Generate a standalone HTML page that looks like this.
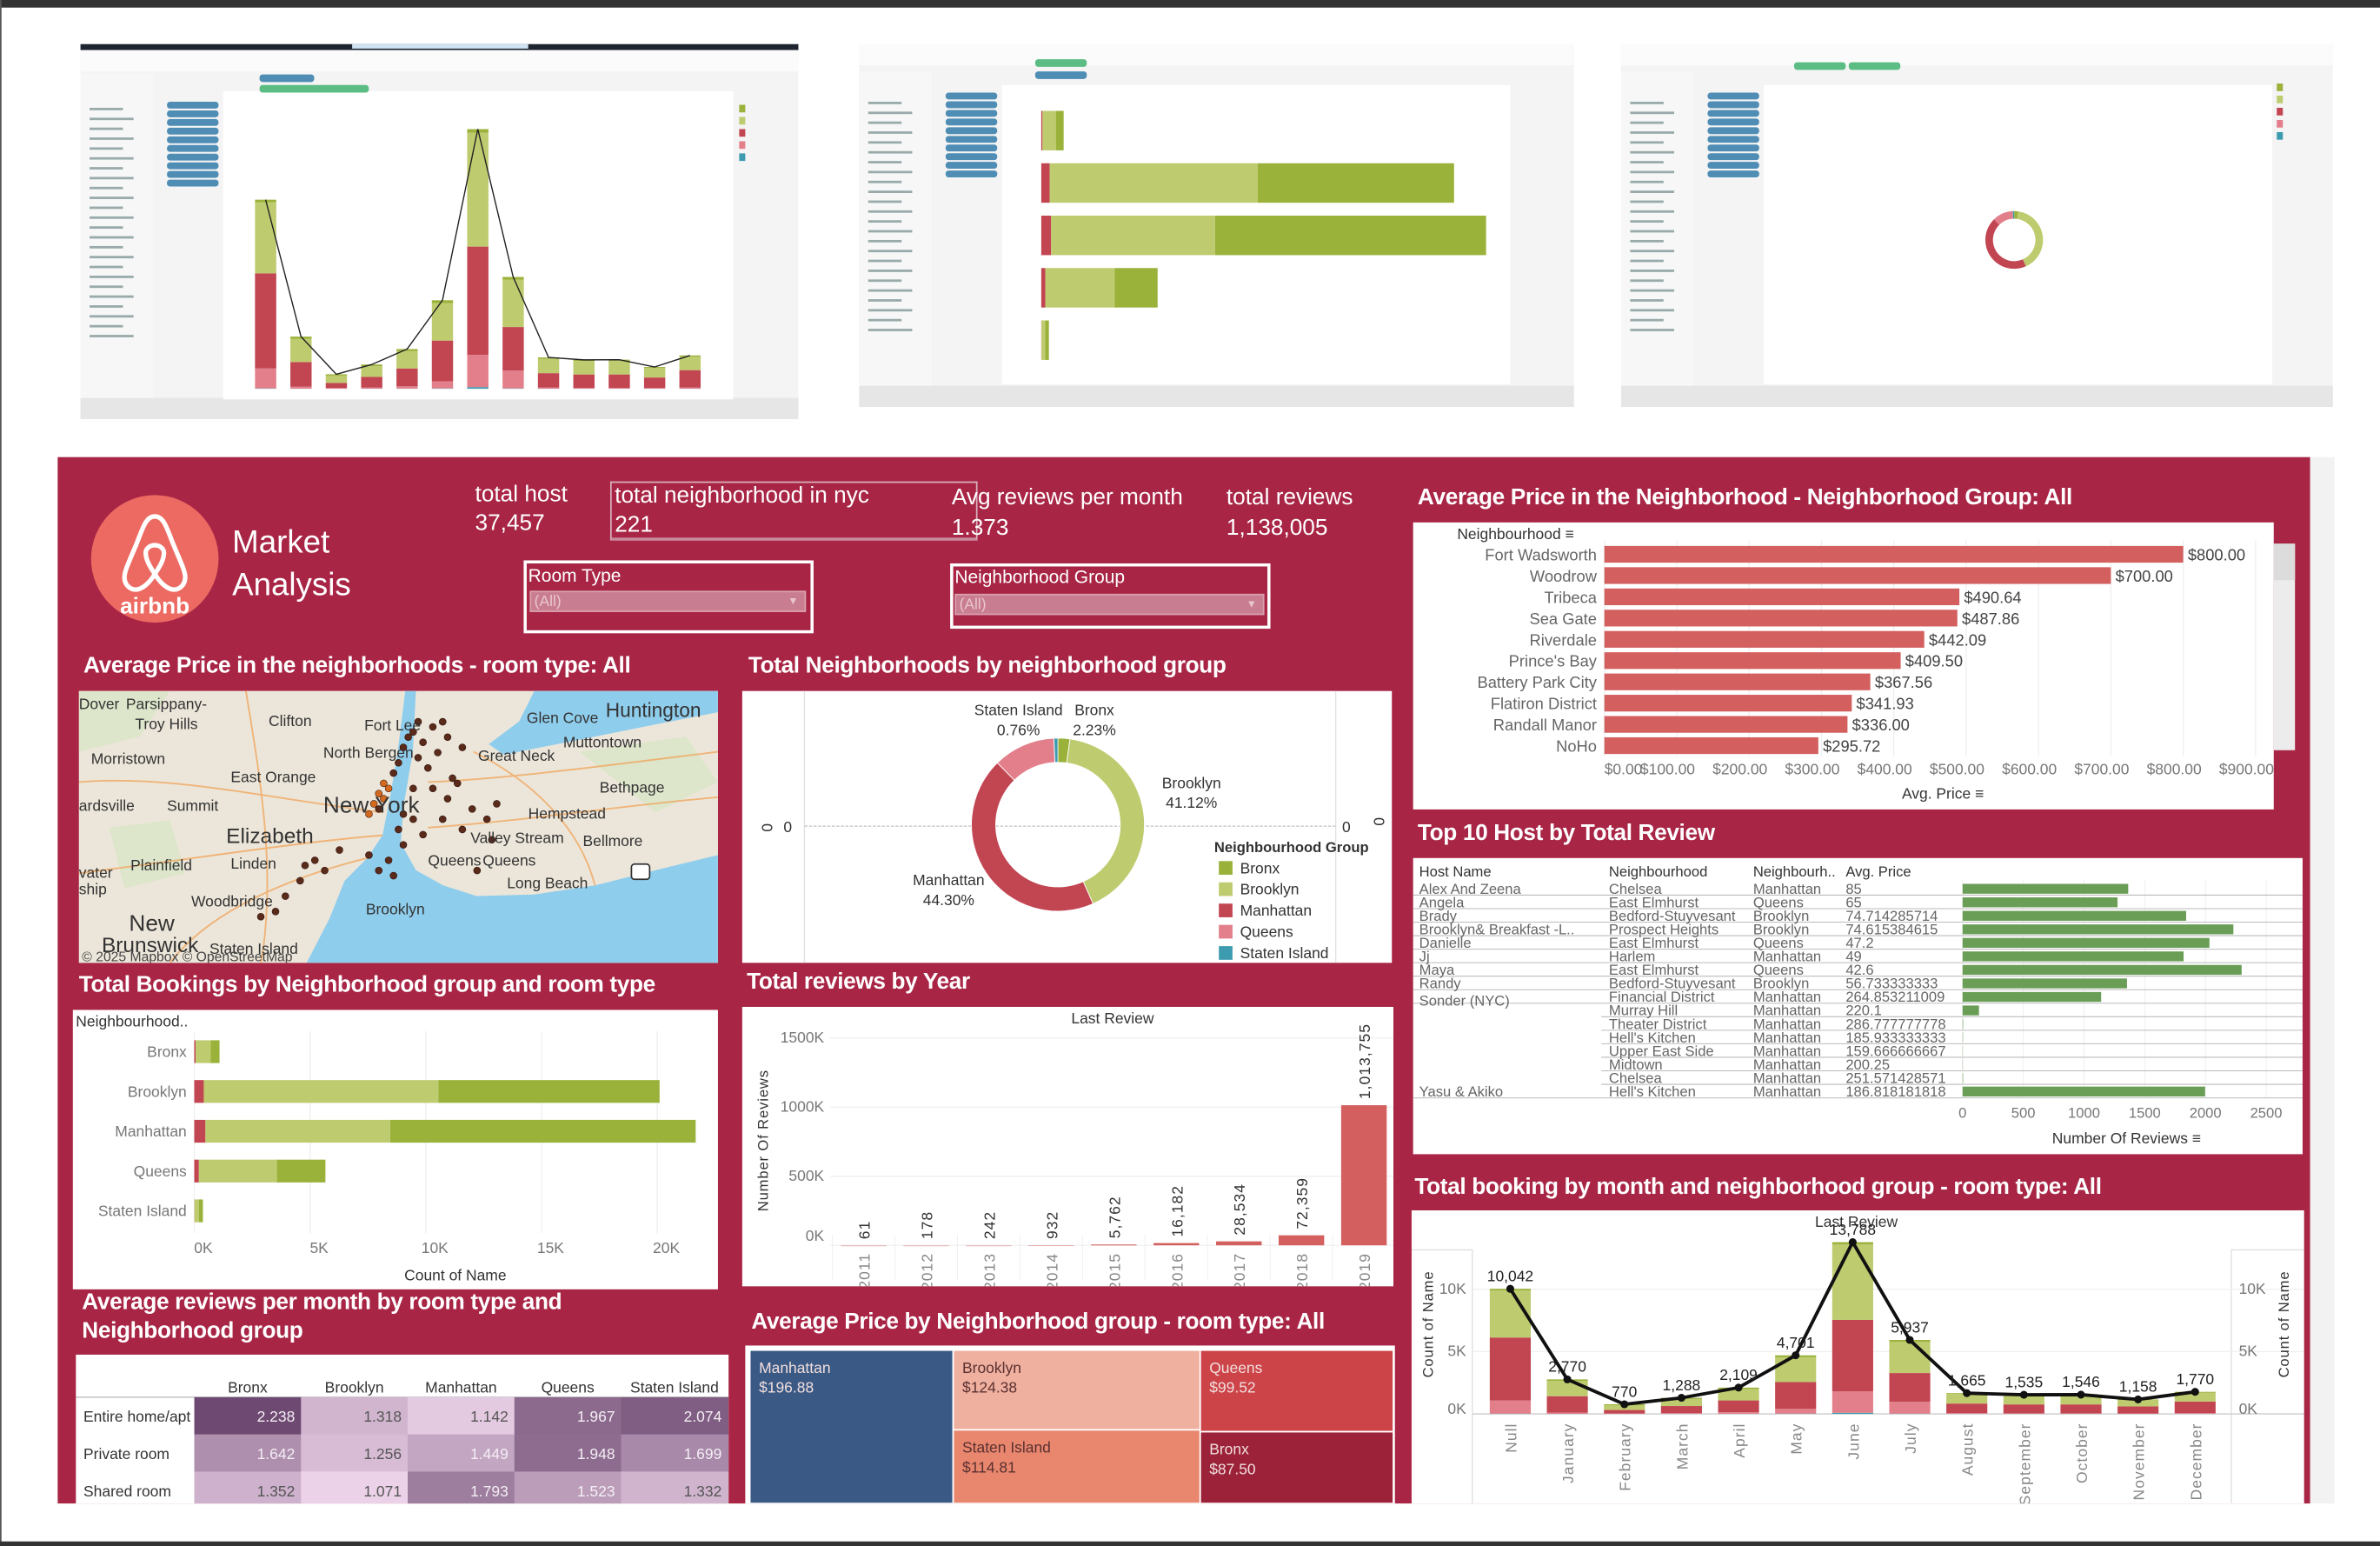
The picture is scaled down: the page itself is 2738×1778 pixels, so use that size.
<!DOCTYPE html>
<html><head><meta charset="utf-8">
<style>
html,body{margin:0;padding:0;width:2738px;height:1778px;overflow:hidden;background:#fff;}
#root{position:absolute;left:0;top:0;width:1568px;height:1018px;transform:scale(1.74617,1.74656);transform-origin:0 0;font-family:"Liberation Sans Narrow","Liberation Sans",sans-serif;}
.a{position:absolute;}
.t{position:absolute;color:#fff;font-weight:bold;font-size:15px;white-space:nowrap;letter-spacing:-0.2px;}
.k{position:absolute;color:#fff;font-size:15px;white-space:nowrap;}
.p{position:absolute;background:#fff;overflow:hidden;}
svg{position:absolute;left:0;top:0;overflow:visible;}
svg text{font-family:"Liberation Sans Narrow","Liberation Sans",sans-serif;}
</style></head>
<body>
<div id="root">
  <div class="a" style="left:0;top:0;width:1568px;height:5px;background:#333"></div>
  <div class="a" style="left:0;top:0;width:1px;height:1018px;background:#555"></div>
  <div class="a" style="left:0;top:1015px;width:1568px;height:3px;background:#333"></div>

  <!-- top screenshots -->
  <div class="p" id="shot1" style="left:53px;top:29px;width:473px;height:247px;background:#f4f4f4"><svg id="s1" width="473" height="247"></svg></div>
  <div class="p" id="shot2" style="left:566px;top:29px;width:471px;height:239px;background:#f4f4f4"><svg id="s2" width="471" height="239"></svg></div>
  <div class="p" id="shot3" style="left:1068px;top:29px;width:469px;height:239px;background:#f4f4f4"><svg id="s3" width="469" height="239"></svg></div>

  <!-- main red dashboard -->
  <div class="a" style="left:38px;top:301px;width:1484px;height:689px;background:#a82545"></div>
  <div class="a" style="left:1522px;top:301px;width:16px;height:689px;background:#f2f2f2"></div>

  <div class="a" style="left:60px;top:326px;width:84px;height:84px;border-radius:50%;background:#ec6a62">
    <svg width="84" height="84"><path d="M42 14 C36 14 34 22 30 32 C25 44 22 50 22 54 C22 60 27 63 31 62 C35 61 39 57 42 52 C45 57 49 61 53 62 C57 63 62 60 62 54 C62 50 59 44 54 32 C50 22 48 14 42 14 Z M42 52 C38 46 36 42 36 38 C36 35 39 33 42 33 C45 33 48 35 48 38 C48 42 46 46 42 52 Z" fill="none" stroke="#fff" stroke-width="3"/><text x="42" y="78" text-anchor="middle" fill="#fff" font-size="15" font-weight="bold">airbnb</text></svg>
  </div>
  <div class="k" style="left:153px;top:346px;font-size:21px">Market</div>
  <div class="k" style="left:153px;top:374px;font-size:21px">Analysis</div>

  <div class="k" style="left:313px;top:317px">total host</div>
  <div class="k" style="left:313px;top:336px">37,457</div>
  <div class="a" style="left:402px;top:317px;width:240px;height:36px;border:1px solid #d8b0bc;border-bottom:2px solid #c98c9c"></div>
  <div class="k" style="left:405px;top:318px">total neighborhood in nyc</div>
  <div class="k" style="left:405px;top:337px">221</div>
  <div class="k" style="left:627px;top:319px">Avg reviews per month</div>
  <div class="k" style="left:627px;top:339px">1.373</div>
  <div class="k" style="left:808px;top:319px">total reviews</div>
  <div class="k" style="left:808px;top:339px">1,138,005</div>

  <div class="a" style="left:345px;top:369px;width:187px;height:44px;border:2px solid #fff"></div>
  <div class="k" style="left:348px;top:372px;font-size:12px">Room Type</div>
  <div class="a" style="left:349px;top:389px;width:182px;height:14px;background:#c97d90;border:1px solid #d9a0ae;color:#e9c6cf;font-size:10px;line-height:14px;box-sizing:border-box;padding-left:2px">(All)<span style="position:absolute;right:4px;font-size:7px">▼</span></div>
  <div class="a" style="left:626px;top:371px;width:207px;height:39px;border:2px solid #fff"></div>
  <div class="k" style="left:629px;top:373px;font-size:12px">Neighborhood Group</div>
  <div class="a" style="left:629px;top:391px;width:204px;height:14px;background:#c97d90;border:1px solid #d9a0ae;color:#e9c6cf;font-size:10px;line-height:14px;box-sizing:border-box;padding-left:2px">(All)<span style="position:absolute;right:4px;font-size:7px">▼</span></div>

  <!-- titles -->
  <div class="t" style="left:55px;top:430px">Average Price in the neighborhoods - room type: All</div>
  <div class="t" style="left:493px;top:430px">Total Neighborhoods by neighborhood group</div>
  <div class="t" style="left:934px;top:319px">Average Price in the Neighborhood - Neighborhood Group: All</div>
  <div class="t" style="left:934px;top:540px">Top 10 Host by Total Review</div>
  <div class="t" style="left:52px;top:640px">Total Bookings by Neighborhood group and room type</div>
  <div class="t" style="left:492px;top:638px">Total reviews by Year</div>
  <div class="t" style="left:54px;top:848px;line-height:19px">Average reviews per month by room type and<br>Neighborhood group</div>
  <div class="t" style="left:495px;top:862px">Average Price by Neighborhood group - room type: All</div>
  <div class="t" style="left:932px;top:773px">Total booking by month and neighborhood group - room type: All</div>

  <!-- panels -->
  <div class="p" style="left:52px;top:455px;width:421px;height:179px;background:#ede7dc"><svg id="map" width="421" height="179"></svg></div>
  <div class="p" style="left:489px;top:455px;width:428px;height:179px"><svg id="donut" width="428" height="179"></svg></div>
  <div class="p" style="left:931px;top:344px;width:567px;height:189px"><svg id="price" width="567" height="189"></svg></div>
  <div class="a" style="left:1498px;top:358px;width:14px;height:136px;background:#ececec"><div class="a" style="left:0;top:0;width:14px;height:24px;background:#dcdcdc"></div></div>
  <div class="p" style="left:931px;top:565px;width:586px;height:195px"><svg id="hosts" width="586" height="195"></svg></div>
  <div class="p" style="left:48px;top:665px;width:425px;height:184px"><svg id="book" width="425" height="184"></svg></div>
  <div class="p" style="left:489px;top:663px;width:429px;height:184px"><svg id="year" width="429" height="184"></svg></div>
  <div class="p" style="left:50px;top:892px;width:430px;height:98px"><svg id="heat" width="430" height="98"></svg></div>
  <div class="p" style="left:491px;top:886px;width:428px;height:104px"><svg id="tree" width="428" height="104"></svg></div>
  <div class="p" style="left:930px;top:797px;width:588px;height:193px"><svg id="month" width="588" height="193"></svg></div>
</div>

<script>
// ---------- data ----------
const groups=['Bronx','Brooklyn','Manhattan','Queens','Staten Island'];
const groupColors=['#9ab23a','#bfcb6f','#c24552','#e27f8a','#3d9bb0'];
const donutPct=[2.23,41.12,44.30,11.59,0.76];

const nbNames=['Fort Wadsworth','Woodrow','Tribeca','Sea Gate','Riverdale',"Prince's Bay",'Battery Park City','Flatiron District','Randall Manor','NoHo'];
const nbPrices=[800,700,490.64,487.86,442.09,409.50,367.56,341.93,336.00,295.72];
const priceTicks=[0,100,200,300,400,500,600,700,800,900];

const hostNames=['Alex And Zeena','Angela','Brady','Brooklyn&  Breakfast  -L..','Danielle','Jj','Maya','Randy','Sonder (NYC)','','','','','','','Yasu & Akiko'];
const hostHoods=['Chelsea','East Elmhurst','Bedford-Stuyvesant','Prospect Heights','East Elmhurst','Harlem','East Elmhurst','Bedford-Stuyvesant','Financial District','Murray Hill','Theater District',"Hell's Kitchen",'Upper East Side','Midtown','Chelsea',"Hell's Kitchen"];
const hostGroups=['Manhattan','Queens','Brooklyn','Brooklyn','Queens','Manhattan','Queens','Brooklyn','Manhattan','Manhattan','Manhattan','Manhattan','Manhattan','Manhattan','Manhattan','Manhattan'];
const hostPrices=['85','65','74.714285714','74.615384615','47.2','49','42.6','56.733333333','264.853211009','220.1','286.777777778','185.933333333','159.666666667','200.25','251.571428571','186.818181818'];
const hostReviews=[1364,1276,1841,2230,2033,1820,2298,1354,1141,135,4,3,2,2,4,1997];
const hostTicks=[0,500,1000,1500,2000,2500];

const roomTypes=['Shared room','Private room','Entire home/apt'];
const roomColors=['#c24552','#bfcb6f','#9ab23a'];
const bookShared=[60,411,480,198,9];
const bookPrivate=[652,10132,7982,3372,188];
const bookEntire=[379,9559,13199,2096,176];
const bookTicks=[0,5000,10000,15000,20000];

const years=['2011','2012','2013','2014','2015','2016','2017','2018','2019'];
const yearReviews=[61,178,242,932,5762,16182,28534,72359,1013755];
const yearLabels=['61','178','242','932','5,762','16,182','28,534','72,359','1,013,755'];
const yearTicks=[0,500000,1000000,1500000];

const heatRows=['Entire home/apt','Private room','Shared room'];
const heatBronx=[2.238,1.642,1.352];
const heatBrooklyn=[1.318,1.256,1.071];
const heatManhattan=[1.142,1.449,1.793];
const heatQueens=[1.967,1.948,1.523];
const heatStaten=[2.074,1.699,1.332];

const treeNames=['Manhattan','Brooklyn','Staten Island','Queens','Bronx'];
const treePrices=[196.88,124.38,114.81,99.52,87.50];
const treeColors=['#3a5a85','#f0b09f','#e8866e','#cc4348','#9b2238'];

const months=['Null','January','February','March','April','May','June','July','August','September','October','November','December'];
const mStaten=[20,5,2,5,10,20,90,20,5,5,5,5,5];
const mQueens=[1060,105,40,60,120,380,1710,950,60,40,40,35,60];
const mManhattan=[5050,1310,270,565,950,2160,5750,2310,765,715,715,560,925];
const mBrooklyn=[3770,1230,390,570,920,1990,6050,2520,770,720,730,500,710];
const mBronx=[142,120,68,88,109,151,188,137,65,55,56,58,70];
const monthTicks=[0,5000,10000];

const mapLon=[-73.94,-73.95,-73.96,-73.98,-73.99,-74.00,-73.99,-74.01,-73.93,-73.92,-73.90,-73.87,-73.85,-73.88,-73.82,-73.91,-73.86,-73.95,-73.94,-73.97,-73.99,-73.92,-73.90,-73.96,-74.01,-73.94,-73.85,-73.80,-73.88,-73.77,-73.82,-73.75,-73.92,-73.79,-73.76,-73.86,-73.83,-74.15,-74.12,-74.18,-74.10,-74.20,-74.23,-73.97,-73.98,-73.91,-73.89,-73.84,-74.07,-74.14];
const mapLat=[40.84,40.81,40.79,40.77,40.75,40.73,40.72,40.71,40.86,40.87,40.85,40.83,40.86,40.88,40.84,40.89,40.89,40.68,40.65,40.62,40.60,40.70,40.67,40.59,40.63,40.71,40.74,40.72,40.76,40.70,40.68,40.73,40.76,40.60,40.66,40.70,40.77,40.58,40.62,40.55,40.60,40.52,40.51,40.76,40.74,40.82,40.80,40.78,40.64,40.61];
const mapPrice=[150,120,180,230,260,210,190,300,90,80,70,75,65,85,70,80,60,110,95,100,120,90,85,140,100,150,70,80,75,65,70,90,95,120,80,70,85,80,90,75,95,70,60,240,280,100,90,85,95,80];

// ---------- helpers ----------
const NS='http://www.w3.org/2000/svg';
function S(parent,tag,attrs,text){const e=document.createElementNS(NS,tag);for(const k in attrs)e.setAttribute(k,attrs[k]);if(text!==undefined)e.textContent=text;parent.appendChild(e);return e;}
function fmtK(v){return (v/1000)+'K';}

// ---------- avg price bar chart ----------
(function(){
  const svg=document.getElementById('price');
  const x0=126, sx=v=>x0+v*0.4767, rowY=i=>21+i*14;
  priceTicks.forEach(t=>{
    const g=S(svg,'line',{x1:sx(t),x2:sx(t),y1:12,y2:154,stroke:'#eeeeee','stroke-width':0.7});
    
    
    const tx=S(svg,'text',{x:t===0?x0:sx(t)-6,y:166,'text-anchor':t===0?'start':'middle','font-size':10,fill:'#777'},'$'+t.toFixed(2));
    
    
  });
  const h=S(svg,'text',{x:29,y:11,'font-size':10,fill:'#333'},'Neighbourhood ≡');
  
  
  nbNames.forEach((n,i)=>{
    const y=rowY(i);
    const l=S(svg,'text',{x:121,y:y+4,'text-anchor':'end','font-size':10.5,fill:'#666'},n);
    
    
    const b=S(svg,'rect',{x:x0,y:y-5.5,width:sx(nbPrices[i])-x0,height:11,fill:'#d35f5f'});
    
    
    const v=S(svg,'text',{x:sx(nbPrices[i])+3,y:y+4,'font-size':10.5,fill:'#444'},'$'+nbPrices[i].toFixed(2));
    
    
  });
  const at=S(svg,'text',{x:349,y:182,'text-anchor':'middle','font-size':10,fill:'#333'},'Avg. Price ≡');
  
  
})();

// ---------- top hosts table ----------
(function(){
  const svg=document.getElementById('hosts');
  const cols=[4,129,224,285], heads=['Host Name','Neighbourhood','Neighbourh..','Avg. Price'];
  heads.forEach((h,i)=>{const t=S(svg,'text',{x:cols[i],y:12,'font-size':9.5,fill:'#333'},h);
    
    });
  const bx0=362, sx=v=>bx0+v*0.08, rowY=i=>20+i*8.9;
  hostTicks.forEach(t=>{const g=S(svg,'line',{x1:sx(t),x2:sx(t),y1:14,y2:158,stroke:'#f0f0f0','stroke-width':0.6});
    
    
    const l=S(svg,'text',{x:sx(t),y:171,'text-anchor':'middle','font-size':9.5,fill:'#777'},String(t));
    
    });
  hostHoods.forEach((hd,i)=>{
    const y=rowY(i);
    const sep=S(svg,'line',{x1:hostNames[i]?0:124,x2:586,y1:y+4.4,y2:y+4.4,stroke:'#bbbbbb','stroke-width':0.6});
    
    
    const vals=[hostNames[i],hd,hostGroups[i],hostPrices[i]];
    vals.forEach((v,c)=>{ if(!v)return; const t=S(svg,'text',{x:cols[c],y:y+(c===0&&i===8?6:3.5),'font-size':9.5,fill:'#666'},v);
      
      });
    const b=S(svg,'rect',{x:bx0,y:y-3,width:sx(hostReviews[i])-bx0,height:6.5,fill:'#6a9e56'});
    
    
  });
  const at=S(svg,'text',{x:470,y:188,'text-anchor':'middle','font-size':10,fill:'#333'},'Number Of Reviews ≡');
  
  
})();

// ---------- donut ----------
(function(){
  const svg=document.getElementById('donut');
  const cx=208, cy=88, ro=57, ri=41;
  [[41],[391]].forEach(p=>{const l=S(svg,'line',{x1:p[0],x2:p[0],y1:0,y2:179,stroke:'#e2e2e2','stroke-width':0.8});
    
    });
  const dl=S(svg,'line',{x1:41,x2:391,y1:89,y2:89,stroke:'#cccccc','stroke-width':0.8,'stroke-dasharray':'2,1'});
  
  
  [['0',30,93],['0',398,93]].forEach(z=>{const t=S(svg,'text',{x:z[1],y:z[2],'font-size':10,fill:'#333','text-anchor':'middle'},z[0]);
    
    });
  [[13,90],[416,86]].forEach(z=>{const t=S(svg,'text',{x:z[0],y:z[1],'font-size':10,fill:'#333','text-anchor':'middle',transform:`rotate(90 ${z[0]} ${z[1]})`},'0');
    
    });
  let a=0;
  donutPct.forEach((p,i)=>{
    const a0=a/100*2*Math.PI, a1=(a+p)/100*2*Math.PI; a+=p;
    const pt=(r,ang)=>[cx+r*Math.sin(ang),cy-r*Math.cos(ang)];
    const [x1,y1]=pt(ro,a0),[x2,y2]=pt(ro,a1),[x3,y3]=pt(ri,a1),[x4,y4]=pt(ri,a0);
    const lg=(a1-a0)>Math.PI?1:0;
    const s=S(svg,'path',{d:`M${x1},${y1}A${ro},${ro} 0 ${lg} 1 ${x2},${y2}L${x3},${y3}A${ri},${ri} 0 ${lg} 0 ${x4},${y4}Z`,fill:groupColors[i],stroke:'#fff','stroke-width':0.5});
    
    
  });
  const labs=[[0,232,16],[1,296,64],[2,136,128],[4,182,16]];
  labs.forEach(L=>{
    const t=S(svg,'text',{x:L[1],y:L[2],'font-size':10,fill:'#333','text-anchor':'middle'},groups[L[0]]);
    
    
    const v=S(svg,'text',{x:L[1],y:L[2]+13,'font-size':10,fill:'#333','text-anchor':'middle'},donutPct[L[0]].toFixed(2)+'%');
    
    
  });
  const lt=S(svg,'text',{x:311,y:106,'font-size':9.5,'font-weight':'bold',fill:'#333'},'Neighbourhood Group');
  
  
  groups.forEach((g,i)=>{
    const r=S(svg,'rect',{x:314,y:112+i*14,width:9,height:9,fill:groupColors[i]});
    
    
    const t=S(svg,'text',{x:328,y:120+i*14,'font-size':10,fill:'#333'},g);
    
    
  });
})();

// ---------- map ----------
(function(){
  const svg=document.getElementById('map');
  const land=S(svg,'rect',{x:0,y:0,width:421,height:179,fill:'#ece6da'});
  
  
  const parks=S(svg,'path',{d:'M0,0 L60,0 L40,30 L0,40 Z M20,90 L60,85 L70,120 L30,130 Z M330,40 L400,30 L421,60 L380,80 Z',fill:'#d7e6c4',opacity:0.7});
  
  
  const water=S(svg,'path',{d:'M150,179 L165,150 L175,125 L190,110 L200,95 L205,70 L210,40 L215,0 L222,0 L220,40 L214,75 L212,100 L222,118 L240,128 L262,135 L300,134 L340,128 L380,118 L421,108 L421,179 Z M300,0 L421,0 L421,14 L380,22 L340,30 L300,38 L280,42 L270,35 L290,20 Z',fill:'#8fcdec'});
  
  
  const roads=S(svg,'path',{d:'M0,60 C60,55 120,70 200,80 M0,120 C80,110 140,100 200,95 M230,60 C280,58 340,50 421,40 M230,90 C300,85 360,75 421,70 M110,0 C120,60 130,120 120,179 M60,179 C90,140 150,120 190,110 M260,40 C300,60 330,90 340,128',stroke:'#f0a860',fill:'none','stroke-width':1.1,opacity:0.8});
  
  
  const px=lon=>(lon+74.6)/1.3*421, py=lat=>(40.95-lat)/0.53*179;
  mapLon.forEach((lon,i)=>{
    const c=S(svg,'circle',{cx:px(lon),cy:py(mapLat[i]),r:2.3,fill:mapPrice[i]>200?'#d2691e':'#5a2a1a',stroke:'#2a0f08','stroke-width':0.3});
    
    
  });
  const labels=[['Dover',0,12,10],['Parsippany-',31,12,10],['Troy Hills',37,25,10],['Clifton',125,23,10],['Fort Lee',188,26,10],['Glen Cove',295,21,10],['Huntington',347,17,13],['Morristown',8,48,10],['North Bergen',161,44,10],['Great Neck',263,46,10],['Muttontown',319,37,10],['East Orange',100,60,10],['Bethpage',343,67,10],['New York',161,80,15],['ardsville',0,79,10],['Summit',58,79,10],['Hempstead',296,84,10],['Elizabeth',97,100,14],['Valley Stream',258,100,10],['Bellmore',332,102,10],['Plainfield',34,118,10],['Linden',100,117,10],['Queens',230,115,10],['Queens',266,115,10],['vater',0,123,10],['ship',0,134,10],['Long Beach',282,130,10],['Woodbridge',74,142,10],['Brooklyn',189,147,10],['New',33,158,15],['Brunswick',15,172,14],['Staten Island',86,173,10]];
  labels.forEach(L=>{const t=S(svg,'text',{x:L[1],y:L[2],'font-size':L[3],fill:'#333'},L[0]);
    
    });
  const cb=S(svg,'rect',{x:364,y:114,width:12,height:10,rx:2,fill:'#fff',stroke:'#333','stroke-width':1});
  
  
  const cr=S(svg,'text',{x:2,y:178,'font-size':9,fill:'#444'},'© 2025 Mapbox © OpenStreetMap');
  
  
})();

// ---------- bookings bar chart ----------
(function(){
  const svg=document.getElementById('book');
  const x0=80, sx=v=>x0+v*0.01525, rowY=i=>27+i*26.2;
  bookTicks.forEach(t=>{const g=S(svg,'line',{x1:sx(t),x2:sx(t),y1:14,y2:147,stroke:'#eeeeee','stroke-width':0.7});
    
    
    const l=S(svg,'text',{x:sx(t)+6,y:160,'text-anchor':'middle','font-size':10,fill:'#777'},fmtK(t));
    
    });
  const h=S(svg,'text',{x:2,y:11,'font-size':10,fill:'#333'},'Neighbourhood..');
  
  
  groups.forEach((g,i)=>{
    const y=rowY(i);
    const l=S(svg,'text',{x:75,y:y+4,'text-anchor':'end','font-size':10,fill:'#777'},g);
    
    
    const segs=[bookShared[i],bookPrivate[i],bookEntire[i]];
    let acc=0;
    segs.forEach((v,k)=>{
      const r=S(svg,'rect',{x:sx(acc),y:y-7,width:sx(acc+v)-sx(acc),height:15,fill:roomColors[k]});
      
      
      acc+=v;
    });
  });
  const at=S(svg,'text',{x:252,y:178,'text-anchor':'middle','font-size':10,fill:'#333'},'Count of Name');
  
  
})();

// ---------- reviews by year ----------
(function(){
  const svg=document.getElementById('year');
  const base=157, sy=v=>base-v*0.000091, cx=i=>80+i*41.2;
  const ht=S(svg,'text',{x:244,y:11,'text-anchor':'middle','font-size':10,fill:'#333'},'Last Review');
  
  
  yearTicks.forEach(t=>{const g=S(svg,'line',{x1:58,x2:429,y1:sy(t),y2:sy(t),stroke:'#eeeeee','stroke-width':0.7});
    
    
    const l=S(svg,'text',{x:54,y:sy(t)+(t===0?-3:3),'text-anchor':'end','font-size':10,fill:'#777'},fmtK(t/1000*1000/1000)+'');
    l.textContent=(t/1000)+'K';
    
    });
  years.forEach((yr,i)=>{
    const c=cx(i);
    const vl=S(svg,'line',{x1:c-20.6,x2:c-20.6,y1:150,y2:180,stroke:'#f0f0f0','stroke-width':0.6});
    
    
    const b=S(svg,'rect',{x:c-15,y:sy(yearReviews[i]),width:30,height:Math.max(base-sy(yearReviews[i]),0.6),fill:yearReviews[i]>5000?'#d35f5f':'#e6b3b3'});
    
    
    const vt=S(svg,'text',{x:c+4,y:sy(yearReviews[i])-4,'font-size':10,fill:'#333',transform:`rotate(-90 ${c+4} ${sy(yearReviews[i])-4})`,'letter-spacing':'0.6'},yearLabels[i]);
    
    
    const yl=S(svg,'text',{x:c+4,y:162,'font-size':10,fill:'#888','text-anchor':'end',transform:`rotate(-90 ${c+4} 162)`,'letter-spacing':'0.6'},yr);
    
    
  });
  const at=S(svg,'text',{x:17,y:88,'text-anchor':'middle','font-size':9.5,fill:'#333',transform:'rotate(-90 17 88)','letter-spacing':'0.5'},'Number Of Reviews');
  
  
})();

// ---------- heatmap ----------
(function(){
  const svg=document.getElementById('heat');
  const cols=[heatBronx,heatBrooklyn,heatManhattan,heatQueens,heatStaten];
  const lo=1.071, hi=2.238, c0=[236,210,232], c1=[110,74,114];
  const col=v=>{const t=Math.max(0,Math.min(1,(v-lo)/(hi-lo)));return 'rgb('+c0.map((c,k)=>Math.round(c+(c1[k]-c)*t)).join(',')+')';};
  const x0=78, cw=70.3, y0=28, rh=24.5;
  groups.forEach((g,j)=>{const t=S(svg,'text',{x:x0+cw*j+cw/2,y:25,'text-anchor':'middle','font-size':10,fill:'#333'},g);
    
    });
  const sep=S(svg,'line',{x1:0,x2:430,y1:y0,y2:y0,stroke:'#cccccc','stroke-width':1});
  
  
  heatRows.forEach((r,i)=>{
    const t=S(svg,'text',{x:5,y:y0+rh*i+rh/2+4,'font-size':10,fill:'#333'},r);
    
    
    cols.forEach((arr,j)=>{
      const c=S(svg,'rect',{x:x0+cw*j,y:y0+rh*i,width:cw+0.5,height:rh+0.5,fill:col(arr[i])});
      
      
      const v=S(svg,'text',{x:x0+cw*(j+1)-4,y:y0+rh*i+rh/2+4,'text-anchor':'end','font-size':10,fill:arr[i]>1.4?'#f4eef4':'#555'},arr[i].toFixed(3));
      
      
    });
  });
})();

// ---------- treemap ----------
(function(){
  const svg=document.getElementById('tree');
  const X=3, Y=3, W=424, H=101;
  const total=treePrices.reduce((a,b)=>a+b,0);
  const w0=W*treePrices[0]/total, w1=W*(treePrices[1]+treePrices[2])/total, w2=W-w0-w1;
  const h1=H*treePrices[1]/(treePrices[1]+treePrices[2]), h2=H*treePrices[3]/(treePrices[3]+treePrices[4]);
  const rects=[[X,Y,w0,H],[X+w0,Y,w1,h1],[X+w0,Y+h1,w1,H-h1],[X+w0+w1,Y,w2,h2],[X+w0+w1,Y+h2,w2,H-h2]];
  rects.forEach((r,i)=>{
    const e=S(svg,'rect',{x:r[0],y:r[1],width:r[2],height:r[3],fill:treeColors[i],stroke:'#fff','stroke-width':1});
    
    
    const fc=(i===1||i===2)?'#5a3030':'#f2dede';
    const n=S(svg,'text',{x:r[0]+6,y:r[1]+15,'font-size':10,fill:fc},treeNames[i]);
    
    
    const v=S(svg,'text',{x:r[0]+6,y:r[1]+28,'font-size':10,fill:fc},'$'+treePrices[i].toFixed(2));
    
    
  });
})();

// ---------- monthly combo ----------
(function(){
  const svg=document.getElementById('month');
  const base=134, sy=v=>base-v*0.0082, cx=i=>65+i*37.6;
  const ht=S(svg,'text',{x:293,y:11,'text-anchor':'middle','font-size':10,fill:'#333'},'Last Review');
  
  
  [[40,26,40,193],[540,26,540,193],[0,26,40,26],[540,26,588,26]].forEach(L=>{const l=S(svg,'line',{x1:L[0],y1:L[1],x2:L[2],y2:L[3],stroke:'#e0e0e0','stroke-width':0.8});
    
    });
  monthTicks.forEach(t=>{
    const g=S(svg,'line',{x1:40,x2:588,y1:sy(t),y2:sy(t),stroke:t===0?'#cccccc':'#f0f0f0','stroke-width':0.8});
    
    
    const l=S(svg,'text',{x:36,y:sy(t)+(t===0?0:3),'text-anchor':'end','font-size':10,fill:'#777'},(t/1000)+'K');
    
    
    const r=S(svg,'text',{x:545,y:sy(t)+(t===0?0:3),'font-size':10,fill:'#777'},(t/1000)+'K');
    
    
  });
  const stackArr=[mStaten,mQueens,mManhattan,mBrooklyn,mBronx];
  const stackCol=['#3d9bb0','#e27f8a','#c24552','#bfcb6f','#9ab23a'];
  const totals=months.map((m,i)=>stackArr.reduce((s,a)=>s+a[i],0));
  months.forEach((m,i)=>{
    const c=cx(i); let acc=0;
    stackArr.forEach((arr,k)=>{
      const r=S(svg,'rect',{x:c-13.5,y:sy(acc+arr[i]),width:27,height:sy(acc)-sy(acc+arr[i]),fill:stackCol[k]});
      
      
      acc+=arr[i];
    });
    const ml=S(svg,'text',{x:c+4,y:140,'text-anchor':'end','font-size':10,fill:'#888',transform:`rotate(-90 ${c+4} 140)`,'letter-spacing':'0.6'},m);
    
    
  });
  const pts=totals.map((t,i)=>cx(i)+','+sy(t)).join(' ');
  const pl=S(svg,'polyline',{points:pts,fill:'none',stroke:'#111','stroke-width':2.2});
  
  
  totals.forEach((t,i)=>{
    const d=S(svg,'circle',{cx:cx(i),cy:sy(t),r:2.6,fill:'#111'});
    
    
    const v=S(svg,'text',{x:cx(i),y:sy(t)-5,'text-anchor':'middle','font-size':10,fill:'#222'},t.toLocaleString('en-US'));
    
    
  });
  const a1=S(svg,'text',{x:14,y:75,'text-anchor':'middle','font-size':9.5,fill:'#333',transform:'rotate(-90 14 75)','letter-spacing':'0.5'},'Count of Name');
  
  
  const a2=S(svg,'text',{x:578,y:75,'text-anchor':'middle','font-size':9.5,fill:'#333',transform:'rotate(-90 578 75)','letter-spacing':'0.5'},'Count of Name');
  
  
})();

// ---------- tableau screenshots ----------
function chrome(svg,w,h,dark){
  if(dark){const d=S(svg,'rect',{x:0,y:0,width:w,height:4,fill:'#1e2530'});
    
    
    const hl=S(svg,'rect',{x:179,y:0,width:116,height:3,fill:'#cfe3f3'});
    
    }
  const tb=S(svg,'rect',{x:0,y:dark?4:0,width:w,height:14,fill:'#fbfbfb'});
  
  
  const sb=S(svg,'rect',{x:0,y:h-14,width:w,height:14,fill:'#e6e6e6'});
  
  
  const dp=S(svg,'rect',{x:0,y:dark?20:18,width:48,height:h-(dark?34:32),fill:'#f7f7f7'});
  
  
  for(let i=0;i<24;i++){const l=S(svg,'rect',{x:6,y:(dark?42:38)+i*6.5,width:22+(i*7)%14,height:1.6,fill:'#9aa'});
    
    }
  for(let i=0;i<10;i++){const p=S(svg,'rect',{x:57,y:(dark?38:32)+i*5.7,width:34,height:4.5,rx:2,fill:'#4f8db5'});
    
    }
}
(function(){
  const svg=document.getElementById('s1'); chrome(svg,473,247,true);
  const cv=S(svg,'rect',{x:94,y:31,width:336,height:203,fill:'#fff'});
  
  
  [[118,10],[118,17]].forEach((p,i)=>{const r=S(svg,'rect',{x:p[0],y:p[1]+10,width:i?72:36,height:5,rx:2,fill:i?'#5bbd84':'#4f8db5'});
    
    });
  const stackArr=[mStaten,mQueens,mManhattan,mBrooklyn,mBronx];
  const stackCol=['#3d9bb0','#e27f8a','#c24552','#bfcb6f','#9ab23a'];
  const base=227, sy=v=>base-v*0.0124, cx=i=>122+i*23.3;
  const totals=months.map((m,i)=>stackArr.reduce((s,a)=>s+a[i],0));
  months.forEach((m,i)=>{let acc=0;stackArr.forEach((arr,k)=>{
    const r=S(svg,'rect',{x:cx(i)-7,y:sy(acc+arr[i]),width:14,height:sy(acc)-sy(acc+arr[i]),fill:stackCol[k]});
    
    
    acc+=arr[i];});});
  const pl=S(svg,'polyline',{points:totals.map((t,i)=>cx(i)+','+sy(t)).join(' '),fill:'none',stroke:'#222','stroke-width':0.8});
  
  
  groups.forEach((g,i)=>{const r=S(svg,'rect',{x:434,y:40+i*8,width:4,height:5,fill:groupColors[i]});
    
    });
})();
(function(){
  const svg=document.getElementById('s2'); chrome(svg,471,239,false);
  const cv=S(svg,'rect',{x:94,y:27,width:335,height:197,fill:'#fff'});
  
  
  [[116,9,'#5bbd84'],[116,17,'#4f8db5']].forEach(p=>{const r=S(svg,'rect',{x:p[0],y:p[1]+1,width:34,height:5,rx:2,fill:p[2]});
    
    });
  const x0=120, sx=v=>x0+v*0.01353;
  groups.forEach((g,i)=>{const segs=[bookShared[i],bookPrivate[i],bookEntire[i]];let acc=0;const y=44+i*34.5;
    segs.forEach((v,k)=>{const r=S(svg,'rect',{x:sx(acc),y:y,width:sx(acc+v)-sx(acc),height:26,fill:roomColors[k]});
      
      
      acc+=v;});});
})();
(function(){
  const svg=document.getElementById('s3'); chrome(svg,469,239,false);
  const cv=S(svg,'rect',{x:94,y:27,width:335,height:197,fill:'#fff'});
  
  
  [[114,12],[150,12]].forEach(p=>{const r=S(svg,'rect',{x:p[0],y:p[1],width:34,height:5,rx:2,fill:'#5bbd84'});
    
    });
  const cx=259, cy=129, ro=19, ri=14; let a=0;
  donutPct.forEach((p,i)=>{const a0=a/100*2*Math.PI,a1=(a+p)/100*2*Math.PI;a+=p;
    const pt=(r,ang)=>[cx+r*Math.sin(ang),cy-r*Math.cos(ang)];
    const [x1,y1]=pt(ro,a0),[x2,y2]=pt(ro,a1),[x3,y3]=pt(ri,a1),[x4,y4]=pt(ri,a0);const lg=(a1-a0)>Math.PI?1:0;
    const s=S(svg,'path',{d:`M${x1},${y1}A${ro},${ro} 0 ${lg} 1 ${x2},${y2}L${x3},${y3}A${ri},${ri} 0 ${lg} 0 ${x4},${y4}Z`,fill:groupColors[i]});
    
    });
  groups.forEach((g,i)=>{const r=S(svg,'rect',{x:432,y:26+i*8,width:4,height:5,fill:groupColors[i]});
    
    });
})();
</script>
</body></html>
